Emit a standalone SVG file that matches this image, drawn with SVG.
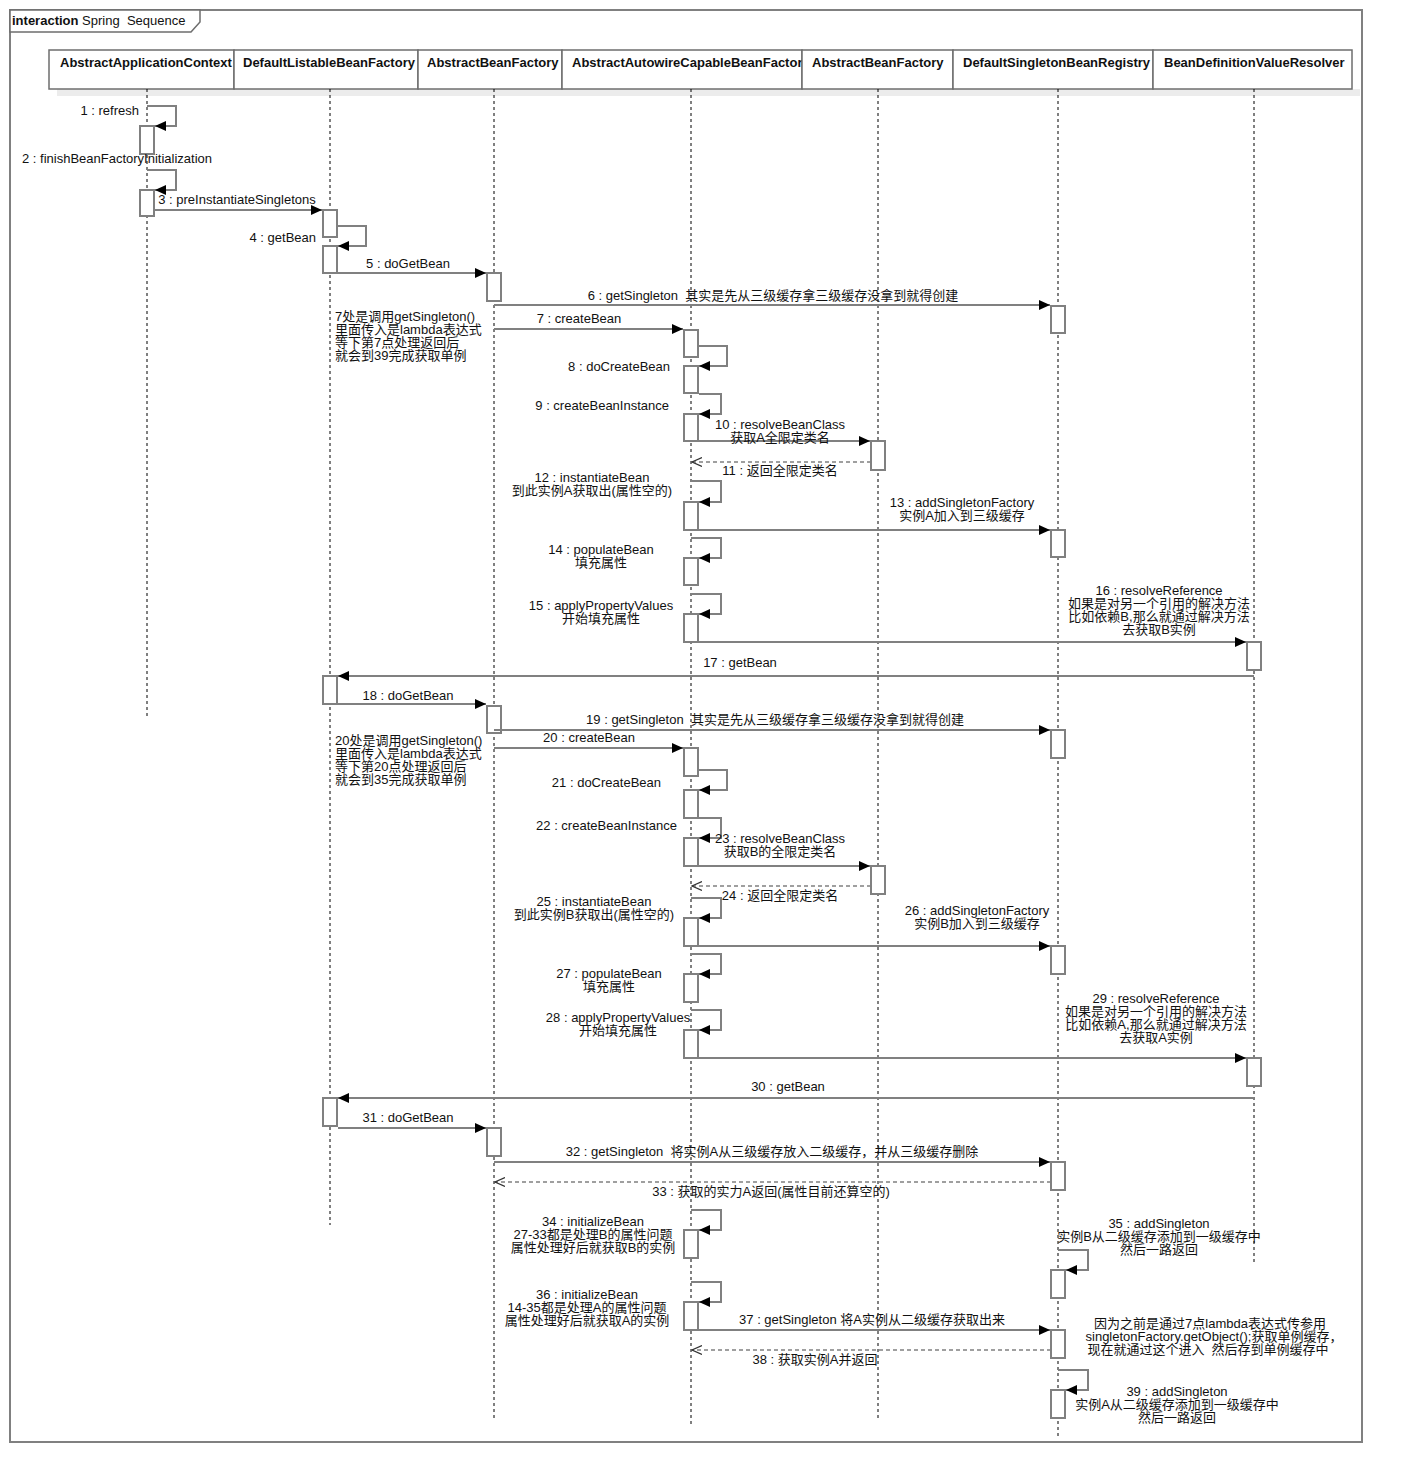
<svg xmlns="http://www.w3.org/2000/svg" width="1402" height="1482" viewBox="0 0 1402 1482">
<defs>
<style>
text{font-family:"Liberation Sans","Noto Sans CJK SC",sans-serif;font-size:13px;fill:#111;}
.hd{font-weight:bold;}
.c{text-anchor:middle;}
.e{text-anchor:end;}
.pre{white-space:pre;}
.box{fill:#fff;stroke:#6e6e6e;stroke-width:1.5;}
.shadow{fill:#ececec;}
.life{stroke:#000;stroke-width:1;stroke-dasharray:3,3;fill:none;}
.bar{fill:#fff;stroke:#808080;stroke-width:2;}
.msg{fill:none;stroke:#808080;stroke-width:2;marker-end:url(#fill);}
.ret{fill:none;stroke:#808080;stroke-width:1.5;stroke-dasharray:4,3;marker-end:url(#open);}
</style>
<marker id="fill" markerUnits="userSpaceOnUse" markerWidth="11" markerHeight="10" refX="11" refY="5" orient="auto">
<path d="M0,0 L11,5 L0,10 z" fill="#000"/>
</marker>
<marker id="open" markerUnits="userSpaceOnUse" markerWidth="11" markerHeight="10" refX="10" refY="5" orient="auto">
<path d="M0,0.5 L10,5 L0,9.5" fill="none" stroke="#333" stroke-width="1.2"/>
</marker>
</defs>
<rect x="0" y="0" width="1402" height="1482" fill="#fff"/>
<g id="frame">
<rect x="10" y="10" width="1352" height="1432" fill="none" stroke="#808080" stroke-width="2"/>
<polygon points="10,10 200,10 200,22 191,32 10,32" fill="#fff" stroke="#6e6e6e" stroke-width="1.5"/>
<text x="12" y="25" class="pre"><tspan font-weight="bold">interaction</tspan> Spring  Sequence</text>
</g>
<g id="shadows">
<rect class="shadow" x="57" y="89" width="1303" height="7"/>
</g>
<g id="AbstractApplicationContext">
<rect class="box" x="49" y="50" width="185" height="39"/>
<text class="hd" x="60" y="67">AbstractApplicationContext</text>
<line class="life" x1="147" y1="89" x2="147" y2="717"/>
<rect class="bar" x="140" y="126" width="14" height="28"/>
<rect class="bar" x="140" y="190" width="14" height="26"/>
</g>
<g id="DefaultListableBeanFactory">
<rect class="box" x="234" y="50" width="184" height="39"/>
<text class="hd" x="243" y="67">DefaultListableBeanFactory</text>
<line class="life" x1="330" y1="89" x2="330" y2="1225"/>
<rect class="bar" x="323" y="210" width="14" height="27"/>
<rect class="bar" x="323" y="246" width="14" height="27"/>
<rect class="bar" x="323" y="676" width="14" height="28"/>
<rect class="bar" x="323" y="1098" width="14" height="28"/>
</g>
<g id="AbstractBeanFactory">
<rect class="box" x="418" y="50" width="144" height="39"/>
<text class="hd" x="427" y="67">AbstractBeanFactory</text>
<line class="life" x1="494" y1="89" x2="494" y2="1418"/>
<rect class="bar" x="487" y="273" width="14" height="28"/>
<rect class="bar" x="487" y="706" width="14" height="27"/>
<rect class="bar" x="487" y="1128" width="14" height="28"/>
</g>
<g id="AbstractAutowireCapableBeanFactory">
<rect class="box" x="562" y="50" width="240" height="39"/>
<text class="hd" x="572" y="67">AbstractAutowireCapableBeanFactor</text>
<line class="life" x1="691" y1="89" x2="691" y2="1425"/>
<rect class="bar" x="684" y="330" width="14" height="27"/>
<rect class="bar" x="684" y="366" width="14" height="27"/>
<rect class="bar" x="684" y="414" width="14" height="27"/>
<rect class="bar" x="684" y="502" width="14" height="28"/>
<rect class="bar" x="684" y="558" width="14" height="27"/>
<rect class="bar" x="684" y="614" width="14" height="28"/>
<rect class="bar" x="684" y="748" width="14" height="28"/>
<rect class="bar" x="684" y="790" width="14" height="28"/>
<rect class="bar" x="684" y="838" width="14" height="28"/>
<rect class="bar" x="684" y="918" width="14" height="28"/>
<rect class="bar" x="684" y="974" width="14" height="28"/>
<rect class="bar" x="684" y="1030" width="14" height="28"/>
<rect class="bar" x="684" y="1230" width="14" height="28"/>
<rect class="bar" x="684" y="1302" width="14" height="28"/>
</g>
<g id="AbstractBeanFactory2">
<rect class="box" x="802" y="50" width="151" height="39"/>
<text class="hd" x="812" y="67">AbstractBeanFactory</text>
<line class="life" x1="878" y1="89" x2="878" y2="1418"/>
<rect class="bar" x="871" y="441" width="14" height="29"/>
<rect class="bar" x="871" y="866" width="14" height="28"/>
</g>
<g id="DefaultSingletonBeanRegistry">
<rect class="box" x="953" y="50" width="200" height="39"/>
<text class="hd" x="963" y="67">DefaultSingletonBeanRegistry</text>
<line class="life" x1="1058" y1="89" x2="1058" y2="1436"/>
<rect class="bar" x="1051" y="306" width="14" height="27"/>
<rect class="bar" x="1051" y="530" width="14" height="27"/>
<rect class="bar" x="1051" y="730" width="14" height="28"/>
<rect class="bar" x="1051" y="946" width="14" height="28"/>
<rect class="bar" x="1051" y="1162" width="14" height="28"/>
<rect class="bar" x="1051" y="1270" width="14" height="28"/>
<rect class="bar" x="1051" y="1330" width="14" height="28"/>
<rect class="bar" x="1051" y="1390" width="14" height="28"/>
</g>
<g id="BeanDefinitionValueResolver">
<rect class="box" x="1153" y="50" width="199" height="39"/>
<text class="hd" x="1164" y="67">BeanDefinitionValueResolver</text>
<line class="life" x1="1254" y1="89" x2="1254" y2="1262"/>
<rect class="bar" x="1247" y="642" width="14" height="28"/>
<rect class="bar" x="1247" y="1058" width="14" height="28"/>
</g>
<g id="connectors">
<path class="msg" d="M147,106 H176 V126 H155"/>
<path class="msg" d="M147,170 H176 V190 H155"/>
<path class="msg" d="M155,210 H322"/>
<path class="msg" d="M338,226 H366 V246 H338"/>
<path class="msg" d="M338,273 H486"/>
<path class="msg" d="M494,305 H1050"/>
<path class="msg" d="M494,329 H683"/>
<path class="msg" d="M699,346 H727 V366 H699"/>
<path class="msg" d="M699,394 H721 V414 H699"/>
<path class="msg" d="M684,441 H870"/>
<path class="ret" d="M871,462 H692"/>
<path class="msg" d="M691,481 H721 V502 H699"/>
<path class="msg" d="M684,530 H1050"/>
<path class="msg" d="M691,538 H721 V558 H699"/>
<path class="msg" d="M691,594 H721 V614 H699"/>
<path class="msg" d="M684,642 H1246"/>
<path class="msg" d="M1254,676 H338"/>
<path class="msg" d="M338,704 H486"/>
<path class="msg" d="M494,730 H1050"/>
<path class="msg" d="M494,748 H683"/>
<path class="msg" d="M699,770 H727 V790 H699"/>
<path class="msg" d="M699,818 H721 V838 H699"/>
<path class="msg" d="M684,866 H870"/>
<path class="ret" d="M871,886 H692"/>
<path class="msg" d="M691,898 H721 V918 H699"/>
<path class="msg" d="M684,946 H1050"/>
<path class="msg" d="M691,954 H721 V974 H699"/>
<path class="msg" d="M691,1010 H721 V1030 H699"/>
<path class="msg" d="M684,1058 H1246"/>
<path class="msg" d="M1254,1098 H338"/>
<path class="msg" d="M338,1128 H486"/>
<path class="msg" d="M494,1162 H1050"/>
<path class="ret" d="M1051,1182 H495"/>
<path class="msg" d="M691,1210 H721 V1230 H699"/>
<path class="msg" d="M1058,1250 H1088 V1270 H1066"/>
<path class="msg" d="M691,1282 H721 V1302 H699"/>
<path class="msg" d="M684,1330 H1050"/>
<path class="ret" d="M1051,1350 H692"/>
<path class="msg" d="M1058,1370 H1088 V1390 H1066"/>
</g>
<g id="labels">
<text class="e" x="139" y="115">1 : refresh</text>
<text class="c" x="117" y="163">2 : finishBeanFactoryInitialization</text>
<text class="c" x="237" y="204">3 : preInstantiateSingletons</text>
<text class="e" x="316" y="242">4 : getBean</text>
<text class="c" x="408" y="268">5 : doGetBean</text>
<text class="c pre" x="773" y="300">6 : getSingleton  其实是先从三级缓存拿三级缓存没拿到就得创建</text>
<text class="c" x="579" y="323">7 : createBean</text>
<text class="e" x="670" y="371">8 : doCreateBean</text>
<text class="e" x="669" y="410">9 : createBeanInstance</text>
<text class="c" x="780" y="429">10 : resolveBeanClass<tspan x="780" dy="13">获取A全限定类名</tspan></text>
<text class="c" x="780" y="475">11 : 返回全限定类名</text>
<text class="c" x="592" y="482">12 : instantiateBean<tspan x="592" dy="13">到此实例A获取出(属性空的)</tspan></text>
<text class="c" x="962" y="507">13 : addSingletonFactory<tspan x="962" dy="13">实例A加入到三级缓存</tspan></text>
<text class="c" x="601" y="554">14 : populateBean<tspan x="601" dy="13">填充属性</tspan></text>
<text class="c" x="601" y="610">15 : applyPropertyValues<tspan x="601" dy="13">开始填充属性</tspan></text>
<text class="c" x="1159" y="595">16 : resolveReference<tspan x="1159" dy="13">如果是对另一个引用的解决方法</tspan><tspan x="1159" dy="13">比如依赖B,那么就通过解决方法</tspan><tspan x="1159" dy="13">去获取B实例</tspan></text>
<text class="c" x="740" y="667">17 : getBean</text>
<text class="c" x="408" y="700">18 : doGetBean</text>
<text class="c pre" x="775" y="724">19 : getSingleton  其实是先从三级缓存拿三级缓存没拿到就得创建</text>
<text class="c" x="589" y="742">20 : createBean</text>
<text class="e" x="661" y="787">21 : doCreateBean</text>
<text class="e" x="677" y="830">22 : createBeanInstance</text>
<text class="c" x="780" y="843">23 : resolveBeanClass<tspan x="780" dy="13">获取B的全限定类名</tspan></text>
<text class="c" x="780" y="900">24 : 返回全限定类名</text>
<text class="c" x="594" y="906">25 : instantiateBean<tspan x="594" dy="13">到此实例B获取出(属性空的)</tspan></text>
<text class="c" x="977" y="915">26 : addSingletonFactory<tspan x="977" dy="13">实例B加入到三级缓存</tspan></text>
<text class="c" x="609" y="978">27 : populateBean<tspan x="609" dy="13">填充属性</tspan></text>
<text class="c" x="618" y="1022">28 : applyPropertyValues<tspan x="618" dy="13">开始填充属性</tspan></text>
<text class="c" x="1156" y="1003">29 : resolveReference<tspan x="1156" dy="13">如果是对另一个引用的解决方法</tspan><tspan x="1156" dy="13">比如依赖A,那么就通过解决方法</tspan><tspan x="1156" dy="13">去获取A实例</tspan></text>
<text class="c" x="788" y="1091">30 : getBean</text>
<text class="c" x="408" y="1122">31 : doGetBean</text>
<text class="c pre" x="772" y="1156">32 : getSingleton  将实例A从三级缓存放入二级缓存，并从三级缓存删除</text>
<text class="c" x="771" y="1196">33 : 获取的实力A返回(属性目前还算空的)</text>
<text class="c" x="593" y="1226">34 : initializeBean<tspan x="593" dy="13">27-33都是处理B的属性问题</tspan><tspan x="593" dy="13">属性处理好后就获取B的实例</tspan></text>
<text class="c" x="1159" y="1228">35 : addSingleton<tspan x="1159" dy="13">实例B从二级缓存添加到一级缓存中</tspan><tspan x="1159" dy="13">然后一路返回</tspan></text>
<text class="c" x="587" y="1299">36 : initializeBean<tspan x="587" dy="13">14-35都是处理A的属性问题</tspan><tspan x="587" dy="13">属性处理好后就获取A的实例</tspan></text>
<text class="c" x="872" y="1324">37 : getSingleton 将A实例从二级缓存获取出来</text>
<text class="c" x="815" y="1364">38 : 获取实例A并返回</text>
<text class="c" x="1177" y="1396">39 : addSingleton<tspan x="1177" dy="13">实例A从二级缓存添加到一级缓存中</tspan><tspan x="1177" dy="13">然后一路返回</tspan></text>
</g>
<g id="notes">
<text x="335" y="321">7处是调用getSingleton()<tspan x="335" dy="13">里面传入是lambda表达式</tspan><tspan x="335" dy="13">等下第7点处理返回后</tspan><tspan x="335" dy="13">就会到39完成获取单例</tspan></text>
<text x="335" y="745">20处是调用getSingleton()<tspan x="335" dy="13">里面传入是lambda表达式</tspan><tspan x="335" dy="13">等下第20点处理返回后</tspan><tspan x="335" dy="13">就会到35完成获取单例</tspan></text>
<text class="c pre" x="1210" y="1328">因为之前是通过7点lambda表达式传参用<tspan x="1214" dy="13">singletonFactory.getObject();获取单例缓存，</tspan><tspan x="1208" dy="13">现在就通过这个进入  然后存到单例缓存中</tspan></text>
</g>
</svg>
